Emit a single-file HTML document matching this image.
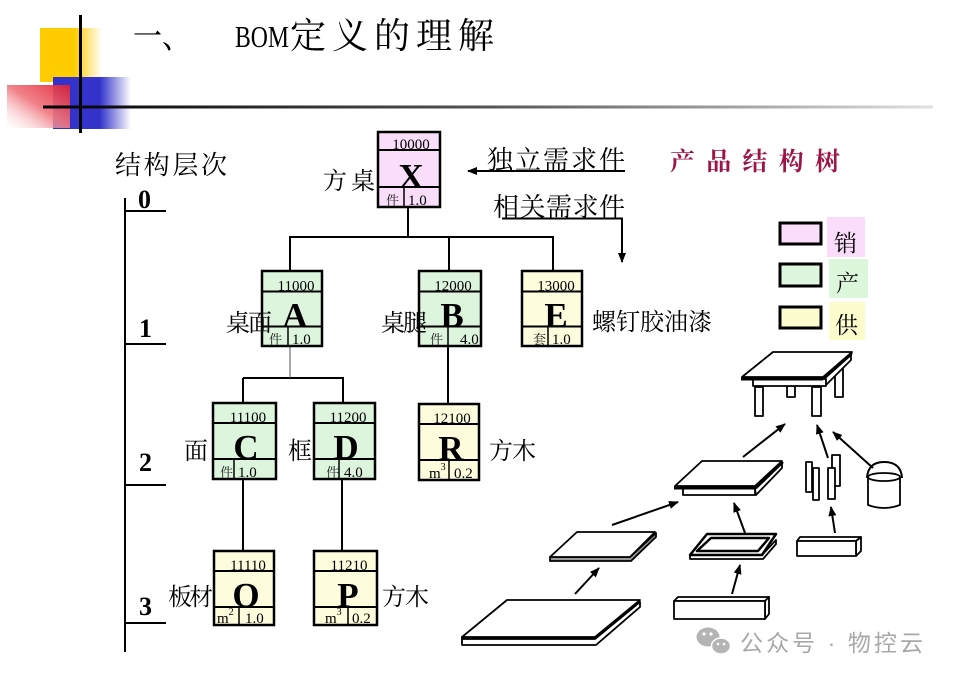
<!DOCTYPE html>
<html><head><meta charset="utf-8">
<style>
html,body{margin:0;padding:0;background:#fff;}
svg{display:block;}
.cj{font-family:"Liberation Serif","Noto Serif CJK SC",serif;}
.lt{font-family:"Liberation Serif",serif;}
</style></head>
<body>
<svg width="955" height="681" viewBox="0 0 955 681" xmlns="http://www.w3.org/2000/svg">
<defs>
  <linearGradient id="gy" x1="0" x2="1" y1="0" y2="0">
    <stop offset="0" stop-color="#ffcc00"/><stop offset="0.55" stop-color="#ffcc00"/><stop offset="1" stop-color="#ffcc00" stop-opacity="0"/>
  </linearGradient>
  <linearGradient id="gb" x1="0" x2="1" y1="0" y2="0">
    <stop offset="0" stop-color="#3333cc"/><stop offset="0.6" stop-color="#3333cc"/><stop offset="1" stop-color="#3333cc" stop-opacity="0"/>
  </linearGradient>
  <linearGradient id="gr" x1="1" x2="0" y1="0" y2="1">
    <stop offset="0" stop-color="#e02030"/><stop offset="0.5" stop-color="#f07880"/><stop offset="1" stop-color="#ffffff" stop-opacity="0.3"/>
  </linearGradient>
  <linearGradient id="gl" x1="0" x2="1" y1="0" y2="0">
    <stop offset="0" stop-color="#000"/><stop offset="0.5" stop-color="#555"/><stop offset="1" stop-color="#e0e0e0"/>
  </linearGradient>
  <marker id="ah" markerWidth="10" markerHeight="10" refX="9" refY="5" orient="auto" markerUnits="userSpaceOnUse">
    <path d="M0,1 L10,5 L0,9 Z" fill="#000"/>
  </marker>
</defs>

<!-- header decoration -->
<rect x="40" y="28" width="62" height="54" fill="url(#gy)"/>
<rect x="53" y="77" width="78" height="52" fill="url(#gb)"/>
<rect x="7" y="85" width="63" height="43" fill="url(#gr)" opacity="0.92"/>
<line x1="80.5" y1="15" x2="80.5" y2="133" stroke="#000" stroke-width="3"/>
<rect x="43" y="105.5" width="890" height="3" fill="url(#gl)"/>

<!-- title -->
<text class="cj" x="133" y="48" font-size="34" textLength="58" lengthAdjust="spacingAndGlyphs">一、</text>
<text class="lt" x="235" y="47" font-size="31" textLength="54" lengthAdjust="spacingAndGlyphs">BOM</text>
<text class="cj" x="290" y="48" font-size="36" textLength="204" lengthAdjust="spacing">定义的理解</text>

<!-- level ruler -->
<text class="cj" x="115" y="174" font-size="26" textLength="112" lengthAdjust="spacing">结构层次</text>
<g stroke="#000" stroke-width="2">
  <line x1="125" y1="198" x2="125" y2="652"/>
  <line x1="125" y1="211" x2="166" y2="211"/>
  <line x1="125" y1="344" x2="166" y2="344"/>
  <line x1="125" y1="485" x2="166" y2="485"/>
  <line x1="125" y1="623" x2="166" y2="623"/>
</g>
<g class="lt" font-size="26" font-weight="bold">
  <text x="138" y="208">0</text>
  <text x="139" y="337">1</text>
  <text x="139" y="471">2</text>
  <text x="139" y="615">3</text>
</g>

<!-- connectors -->
<g stroke="#000" stroke-width="2" fill="none">
  <line x1="408" y1="207" x2="408" y2="237"/>
  <line x1="289" y1="237" x2="554" y2="237"/>
  <line x1="290" y1="237" x2="290" y2="271"/>
  <line x1="449" y1="237" x2="449" y2="271"/>
  <line x1="553" y1="237" x2="553" y2="271"/>
  <line x1="243" y1="378" x2="344" y2="378"/>
  <line x1="243" y1="378" x2="243" y2="403"/>
  <line x1="343" y1="378" x2="343" y2="403"/>
  <line x1="448" y1="346" x2="448" y2="404"/>
  <line x1="243" y1="479" x2="243" y2="551"/>
  <line x1="342" y1="479" x2="342" y2="551"/>
</g>
<line x1="290" y1="346" x2="290" y2="378" stroke="#555" stroke-width="1"/>

<!-- demand arrows -->
<text class="cj" x="487" y="169" font-size="26" textLength="138" lengthAdjust="spacing">独立需求件</text>
<line x1="625" y1="171" x2="468" y2="171" stroke="#000" stroke-width="2" marker-end="url(#ah)"/>
<text class="cj" x="493" y="216" font-size="26" textLength="132" lengthAdjust="spacing">相关需求件</text>
<polyline points="502,218.5 622,218.5 622,262" fill="none" stroke="#000" stroke-width="2" marker-end="url(#ah)"/>

<text class="cj" x="670" y="170" font-size="25" font-weight="bold" fill="#9c1546" textLength="170" lengthAdjust="spacing">产品结构树</text>

<!-- legend -->
<rect x="780" y="223" width="41" height="21" fill="#f9ddf9" stroke="#000" stroke-width="3"/>
<rect x="780" y="264" width="41" height="22" fill="#ddf6dd" stroke="#000" stroke-width="3"/>
<rect x="780" y="307" width="41" height="21" fill="#fcfccf" stroke="#000" stroke-width="3"/>
<rect x="827" y="217" width="38" height="40" fill="#fbdcfb"/>
<rect x="829" y="259" width="39" height="39" fill="#dcf7dc"/>
<rect x="829" y="302" width="36" height="38" fill="#fdfccd"/>
<g class="cj" font-size="23">
  <text x="834" y="251">销</text>
  <text x="836" y="291">产</text>
  <text x="835" y="333">供</text>
</g>

<!-- boxes -->
<g stroke="#000" fill="none">
  <rect x="378" y="132" width="62" height="75" fill="#f9ddf9" stroke-width="2.5"/>
  <line x1="378" y1="150" x2="440" y2="150" stroke-width="2"/>
  <line x1="378" y1="187" x2="440" y2="187" stroke-width="2"/>
  <line x1="404" y1="187" x2="404" y2="207" stroke-width="1.5"/>
  <rect x="262" y="271" width="60" height="75" fill="#ddf5dd" stroke-width="2.5"/>
  <line x1="262" y1="291.5" x2="323" y2="291.5" stroke-width="2"/>
  <line x1="262" y1="326.5" x2="323" y2="326.5" stroke-width="2"/>
  <line x1="288" y1="326.5" x2="288" y2="346" stroke-width="1.5"/>
  <rect x="419" y="271" width="62" height="75" fill="#ddf5dd" stroke-width="2.5"/>
  <line x1="419" y1="291.5" x2="481" y2="291.5" stroke-width="2"/>
  <line x1="419" y1="326.5" x2="481" y2="326.5" stroke-width="2"/>
  <line x1="448" y1="326.5" x2="448" y2="346" stroke-width="1.5"/>
  <rect x="522" y="271" width="60" height="75" fill="#fdfcdc" stroke-width="2.5"/>
  <line x1="522" y1="291.5" x2="582" y2="291.5" stroke-width="2"/>
  <line x1="522" y1="326.5" x2="582" y2="326.5" stroke-width="2"/>
  <line x1="548" y1="326.5" x2="548" y2="346" stroke-width="1.5"/>
  <rect x="213" y="403" width="63" height="76" fill="#ddf5dd" stroke-width="2.5"/>
  <line x1="213" y1="423" x2="277" y2="423" stroke-width="2"/>
  <line x1="213" y1="459" x2="277" y2="459" stroke-width="2"/>
  <line x1="234" y1="459" x2="234" y2="479" stroke-width="1.5"/>
  <rect x="314" y="403" width="61" height="76" fill="#ddf5dd" stroke-width="2.5"/>
  <line x1="314" y1="423" x2="376" y2="423" stroke-width="2"/>
  <line x1="314" y1="459" x2="376" y2="459" stroke-width="2"/>
  <line x1="339" y1="459" x2="339" y2="479" stroke-width="1.5"/>
  <rect x="419" y="404" width="60" height="76" fill="#fdfcdc" stroke-width="2.5"/>
  <line x1="419" y1="424" x2="479" y2="424" stroke-width="2"/>
  <line x1="419" y1="460" x2="479" y2="460" stroke-width="2"/>
  <line x1="449" y1="460" x2="449" y2="480" stroke-width="1.5"/>
  <rect x="214" y="551" width="60" height="74" fill="#fdfcdc" stroke-width="2.5"/>
  <line x1="214" y1="571" x2="275" y2="571" stroke-width="2"/>
  <line x1="214" y1="607" x2="275" y2="607" stroke-width="2"/>
  <line x1="239" y1="607" x2="239" y2="625" stroke-width="1.5"/>
  <rect x="314" y="551" width="63" height="74" fill="#fdfcdc" stroke-width="2.5"/>
  <line x1="314" y1="571" x2="377" y2="571" stroke-width="2"/>
  <line x1="314" y1="607" x2="377" y2="607" stroke-width="2"/>
  <line x1="348" y1="607" x2="348" y2="625" stroke-width="1.5"/>
</g>

<!-- box texts -->
<g class="lt" font-size="15" text-anchor="middle">
  <text x="411" y="149">10000</text>
  <text x="296" y="290.5">11000</text>
  <text x="453" y="290.5">12000</text>
  <text x="556" y="290.5">13000</text>
  <text x="248" y="422">11100</text>
  <text x="348" y="422">11200</text>
  <text x="452" y="423">12100</text>
  <text x="248" y="570">11110</text>
  <text x="349" y="570">11210</text>
</g>
<g class="lt" font-size="35" font-weight="bold" text-anchor="middle">
  <text x="411" y="188">X</text>
  <text x="295" y="327">A</text>
  <text x="452" y="327">B</text>
  <text x="556" y="327">E</text>
  <text x="246" y="459">C</text>
  <text x="346" y="459">D</text>
  <text x="451" y="460">R</text>
  <text x="246" y="607">O</text>
  <text x="348" y="607">P</text>
</g>
<g class="cj" font-size="13" fill="#222">
  <text x="386" y="205">件</text>
  <text x="269" y="344">件</text>
  <text x="430" y="344">件</text>
  <text x="533" y="344">套</text>
  <text x="220" y="477">件</text>
  <text x="326" y="477">件</text>
</g>
<g class="lt" font-size="15">
  <text x="408" y="205">1.0</text>
  <text x="292" y="344">1.0</text>
  <text x="460" y="344">4.0</text>
  <text x="552" y="344">1.0</text>
  <text x="238" y="477">1.0</text>
  <text x="344" y="477">4.0</text>
  <text x="429" y="478">m<tspan font-size="10" dy="-8">3</tspan></text>
  <text x="454" y="478">0.2</text>
  <text x="217" y="623">m<tspan font-size="10" dy="-8">2</tspan></text>
  <text x="245" y="623">1.0</text>
  <text x="325" y="623">m<tspan font-size="10" dy="-8">3</tspan></text>
  <text x="352" y="623">0.2</text>
</g>

<!-- side labels -->
<g class="cj" font-size="24">
  <text x="323" y="189" textLength="52" lengthAdjust="spacing">方桌</text>
  <text x="226" y="331" textLength="46" lengthAdjust="spacing">桌面</text>
  <text x="381" y="331" textLength="46" lengthAdjust="spacing">桌腿</text>
  <text x="592" y="330" textLength="120" lengthAdjust="spacing">螺钉胶油漆</text>
  <text x="184" y="459">面</text>
  <text x="288" y="459">框</text>
  <text x="489" y="459" textLength="47" lengthAdjust="spacing">方木</text>
  <text x="168" y="605" textLength="45" lengthAdjust="spacing">板材</text>
  <text x="382" y="605" textLength="47" lengthAdjust="spacing">方木</text>
</g>

<!-- illustrations -->
<g stroke="#000" stroke-width="1.8" fill="#fff" stroke-linejoin="round">
  <polygon points="835,366 843,364 843,397 835,397"/>
  <rect x="787" y="386" width="8" height="11"/>
  <polygon points="823,380 851,355 851,360 826,385"/>
  <rect x="753" y="379" width="73" height="7"/>
  <polygon points="773,352 852,352 823,377 742,377"/>
  <line x1="741" y1="379" x2="823" y2="379" stroke-width="3"/>
  <line x1="823" y1="379" x2="852" y2="353" stroke-width="2.5"/>
  <rect x="755" y="387" width="8" height="29"/>
  <rect x="812" y="387" width="9" height="29"/>

  <polygon points="755,489 782,463 782,468 756,495"/>
  <rect x="683" y="488" width="72" height="7"/>
  <polygon points="702,461 782,461 755,486 675,486"/>
  <line x1="674" y1="488" x2="756" y2="488" stroke-width="3"/>
  <line x1="756" y1="488" x2="783" y2="462" stroke-width="2.5"/>

  <rect x="806" y="462" width="6" height="30"/>
  <rect x="832" y="455" width="8" height="31"/>
  <rect x="813" y="468" width="6" height="32"/>
  <rect x="828" y="468" width="7" height="31"/>

  <path d="M867,478 Q868,462 884,462 Q901,462 902,478" fill="none" stroke-width="2"/>
  <path d="M868,477 L868,505 Q884,511 900,505 L900,477" fill="#fff"/>
  <ellipse cx="884" cy="477" rx="16" ry="4"/>

  <polygon points="550,557 630,557 656,533 656,537 631,561 550,561" fill="#999"/>
  <polygon points="577,532 655,532 630,557 550,557"/>

  <polygon points="690,555 762,555 776,540 776,544 763,559 690,559" fill="#fff"/>
  <polygon points="707,534 776,534 762,555 690,555" fill="#fff" stroke-width="2.5"/>
  <polygon points="711,538 769,538 758,551 697,551" fill="#fff" stroke-width="2.5"/>

  <polygon points="797,541 856,541 861,537 800,537"/>
  <polygon points="856,541 861,537 861,551 856,556"/>
  <rect x="797" y="541" width="59" height="15"/>

  <polygon points="462,639 595,639 640,602 640,607 596,645 462,645"/>
  <polygon points="507,600 640,600 595,637 462,637"/>
  <line x1="461" y1="638" x2="596" y2="638" stroke-width="2.5"/>

  <polygon points="674,601 765,601 769,597 678,597"/>
  <polygon points="765,601 769,597 769,614 765,619"/>
  <rect x="674" y="601" width="91" height="18"/>
</g>

<g stroke="#000" stroke-width="2" marker-end="url(#ah)">
  <line x1="743" y1="457" x2="785" y2="424"/>
  <line x1="828" y1="458" x2="817" y2="425"/>
  <line x1="873" y1="468" x2="833" y2="432"/>
  <line x1="612" y1="525" x2="678" y2="502"/>
  <line x1="575" y1="594" x2="599" y2="568"/>
  <line x1="745" y1="533" x2="734" y2="503"/>
  <line x1="732" y1="594" x2="740" y2="565"/>
  <line x1="835" y1="533" x2="831" y2="507"/>
</g>

<!-- watermark -->
<g fill="#b4b4b4">
  <ellipse cx="708" cy="637" rx="11.5" ry="9.5"/>
  <ellipse cx="721" cy="646" rx="9.5" ry="8" stroke="#fff" stroke-width="1.5"/>
  <circle cx="704" cy="634" r="1.6" fill="#fff"/>
  <circle cx="711" cy="634" r="1.6" fill="#fff"/>
  <circle cx="718" cy="644" r="1.3" fill="#fff"/>
  <circle cx="724" cy="644" r="1.3" fill="#fff"/>
</g>
<text x="740" y="651" font-family="'Liberation Sans','Noto Sans CJK SC',sans-serif" font-size="23" fill="#a8a8a8" textLength="183" lengthAdjust="spacing">公众号 · 物控云</text>
</svg>
</body></html>
